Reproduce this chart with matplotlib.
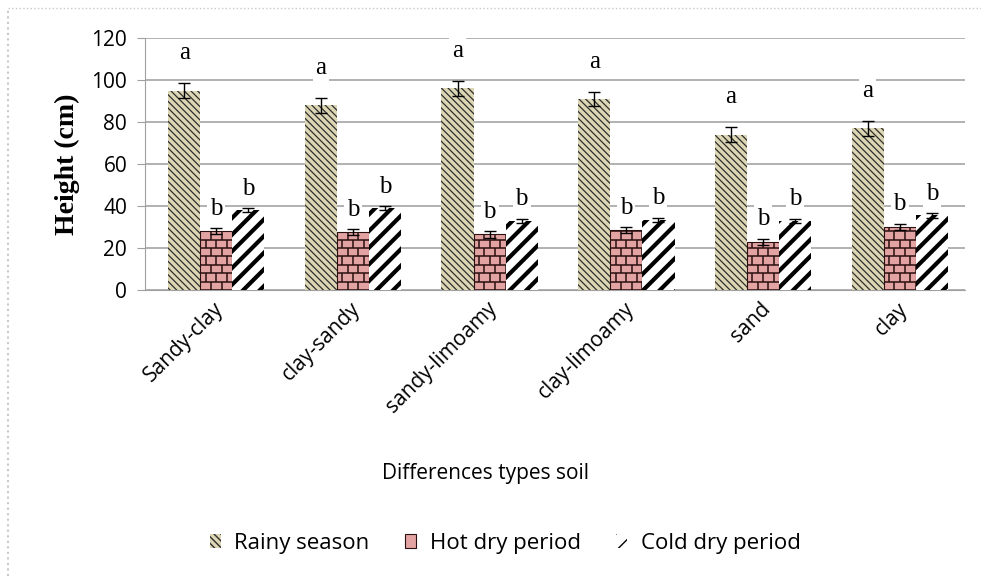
import numpy as np
import matplotlib.pyplot as plt
from matplotlib.lines import Line2D
from matplotlib.collections import LineCollection

soils = ['Sandy-clay', 'clay-sandy', 'sandy-limoamy', 'clay-limoamy', 'sand', 'clay']
rainy = [95, 88, 96, 91, 74, 77]
rainy_err = [3.5, 3.5, 3.5, 3.5, 3.5, 3.5]
hot = [28, 27.5, 26.5, 28.5, 23, 30]
hot_err = [1.5, 1.5, 1.5, 1.5, 1.5, 1.5]
cold = [38, 39, 33, 33.5, 33, 35.5]
cold_err = [1, 1, 1, 1, 1, 1]
rainy_letters = ['a', 'a', 'a', 'a', 'a', 'a']
hot_letters = ['b', 'b', 'b', 'b', 'b', 'b']
cold_letters = ['b', 'b', 'b', 'b', 'b', 'b']

fig = plt.figure(figsize=(9.81, 5.76), dpi=100)
ax = fig.add_axes([0.148, 0.4965, 0.836, 0.4375])

x = np.arange(len(soils))
w = 0.235
sh = 0.02

with plt.rc_context({'hatch.linewidth': 0.9}):
    b1 = ax.bar(x - w + sh, rainy, w, color='#dcd6b4', edgecolor='#2e2e2e', hatch='\\\\\\\\\\',
                linewidth=0, zorder=3, label='Rainy season')
b2 = ax.bar(x + sh, hot, w, color='#e4a3a3', edgecolor='#2a1010', linewidth=0.8,
            zorder=3, label='Hot dry period')
with plt.rc_context({'hatch.linewidth': 3.0}):
    b3 = ax.bar(x + w + sh, cold, w, color='white', edgecolor='black', hatch='//',
                linewidth=0, zorder=3, label='Cold dry period')

# brick texture for the hot dry period bars
row_h = 4.0
for rect in b2:
    x0, wd, ht = rect.get_x(), rect.get_width(), rect.get_height()
    bw = wd / 3
    segs = []
    k = 0
    yb = 0.0
    while yb < ht:
        segs.append([(x0, yb), (x0 + wd, yb)])
        xv = x0 + 0.5 * bw * (k % 2)
        while xv < x0 + wd:
            segs.append([(xv, yb), (xv, min(yb + row_h, ht))])
            xv += bw
        yb += row_h
        k += 1
    lc = LineCollection(segs, colors='#2a1010', linewidths=1.1, zorder=3.5)
    ax.add_collection(lc)
    lc.set_clip_path(rect)

ax.errorbar(x - w + sh, rainy, yerr=rainy_err, fmt='none', ecolor='black', elinewidth=1, capsize=4, zorder=4)
ax.errorbar(x + sh, hot, yerr=hot_err, fmt='none', ecolor='black', elinewidth=1, capsize=4, zorder=4)
ax.errorbar(x + w + sh, cold, yerr=cold_err, fmt='none', ecolor='black', elinewidth=1, capsize=4, zorder=4)

lbl = dict(ha='center', va='bottom', fontsize=18, family='Liberation Serif', zorder=5,
           bbox=dict(facecolor='white', edgecolor='none', pad=2))
for i in range(len(soils)):
    ax.text(x[i] - w + sh, rainy[i] + rainy_err[i] + 9, rainy_letters[i], **lbl)
    ax.text(x[i] + sh, hot[i] + hot_err[i] + 4, hot_letters[i], **lbl)
    ax.text(x[i] + w + sh, cold[i] + cold_err[i] + 4, cold_letters[i], **lbl)

ax.set_ylim(0, 120)
ax.set_xlim(-0.5, len(soils) - 0.5)
ax.set_yticks(range(0, 121, 20))
ax.yaxis.grid(True, color='#ababab', linewidth=1.3, zorder=0)
ax.set_axisbelow(True)
for s in ['top', 'right']:
    ax.spines[s].set_visible(False)
ax.spines['left'].set_color('#a0a0a0')
ax.spines['bottom'].set_color('#a0a0a0')
ax.tick_params(axis='y', length=6, color='#a0a0a0', labelsize=15, pad=7)
ax.tick_params(axis='x', length=0, labelsize=15, pad=6)
ax.set_xticks(x)
ax.set_xticklabels(soils, rotation=45, ha='right', rotation_mode='anchor', family='Open Sans')
for t in ax.get_yticklabels():
    t.set_family('Open Sans')

ax.set_ylabel('Height (cm)', family='Liberation Serif', fontweight='bold', fontsize=20, labelpad=8)
fig.text(0.495, 0.178, 'Differences types soil', ha='center', va='center', fontsize=15, family='Open Sans')

fig.legend(handles=[b1, b2, b3], loc='center', bbox_to_anchor=(0.515, 0.057), ncol=3, frameon=False,
           prop={'family': 'Open Sans', 'size': 16}, handlelength=0.5, handleheight=0.6,
           handletextpad=0.6, columnspacing=1.6)

# dotted frame of the chart area
fig.add_artist(Line2D([0.008, 1.0], [0.986, 0.986], color='#c8c8c8', linestyle=':', linewidth=1))
fig.add_artist(Line2D([0.008, 0.008], [0.0, 0.986], color='#c8c8c8', linestyle=':', linewidth=1.5))

fig.savefig('out.png', dpi=100)
